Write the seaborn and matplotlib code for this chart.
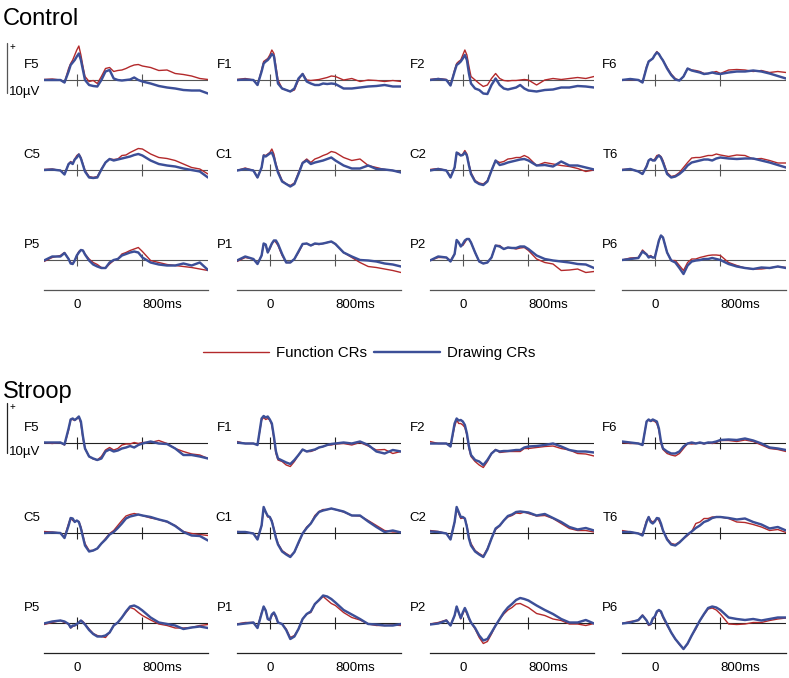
import matplotlib
matplotlib.use("Agg")
import matplotlib.pyplot as plt
import matplotlib.transforms as mtransforms
from matplotlib.lines import Line2D
import pandas as pd
import seaborn as sns

# time points (ms) at which the waveforms were read
times = [-400, -300, -200, -150, -100, -75, -50, -25, 0, 25, 50, 75, 100, 150, 200, 250,
         300, 350, 400, 450, 500, 550, 600, 650, 700, 750, 800, 900, 1000, 1100, 1200,
         1300, 1400, 1500, 1600]

conditions = ["Function CRs", "Drawing CRs"]
sections = ["Control", "Stroop"]
electrodes = [["F5", "F1", "F2", "F6"],
              ["C5", "C1", "C2", "T6"],
              ["P5", "P1", "P2", "P6"]]
tick_times = [0, 800]
tick_labels = ["0", "800ms"]

# amplitudes in microvolts (positive up)
control_F5_function = [0.1, 0.2, 0, -0.5, 2.3, 3.3, 4.0, 5.0, 6.0, 6.8, 5.0, 2.7, 0.7, -0.3, -0.1, -0.7, 0.7, 2.3, 2.5, 1.7, 1.9, 2.0, 2.3, 2.7, 3.0, 3.1, 2.8, 2.5, 1.9, 2.0, 1.3, 1.1, 0.8, 0.3, 0.1]
control_F5_drawing = [0, 0, 0, -0.5, 1.7, 3.0, 3.5, 4.0, 4.7, 5.3, 4.0, 2.0, 0, -1.0, -1.2, -1.3, 0, 1.7, 2.0, 0.3, 0, -0.1, 0, 0.1, 0.5, 0, -0.3, -0.7, -1.2, -1.5, -1.7, -2.0, -2.1, -2.1, -2.7]
control_F1_function = [0.1, 0.3, 0, -1.0, 2.0, 3.7, 4.0, 4.3, 5.0, 6.0, 5.3, 2.7, 0, -1.7, -2.0, -2.3, -2.0, 0, 1.3, 0, -0.1, 0, 0.1, 0.3, 0.5, 0.8, 0.7, 0, 0.3, -0.3, 0, -0.1, -0.3, -0.1, -0.3]
control_F1_drawing = [0, 0.1, 0, -1.0, 1.7, 3.3, 3.7, 4.0, 4.5, 5.2, 4.8, 2.0, -0.7, -1.7, -2.0, -2.3, -1.7, 0.3, 1.2, -0.3, -0.7, -1.0, -1.0, -0.7, -0.8, -0.7, -0.8, -1.7, -1.7, -1.5, -1.3, -1.2, -1.0, -1.3, -1.3]
control_F2_function = [0.1, 0.3, 0.1, -1.0, 2.0, 3.3, 3.7, 4.0, 5.0, 6.0, 5.0, 2.7, 0.7, 0, -0.7, -1.3, -1.0, 0.3, 1.3, 0.3, -0.1, -0.2, -0.1, -0.1, 0, 0.1, 0, -1.0, 0, 0.3, 0.1, 0.3, 0.5, 0.3, 0.7]
control_F2_drawing = [0, 0.2, 0, -1.1, 1.7, 3.0, 3.3, 3.7, 4.3, 5.0, 4.0, 1.3, -0.7, -1.7, -2.0, -2.7, -2.8, -1.0, 0.3, -1.0, -1.7, -1.9, -1.7, -1.5, -1.0, -1.7, -2.1, -2.3, -2.0, -1.9, -1.5, -1.5, -1.2, -1.3, -1.5]
control_F6_function = [0, 0.1, 0, -0.5, 2.7, 3.7, 4.0, 4.3, 5.0, 5.7, 5.2, 4.5, 3.9, 2.5, 1.2, 0.3, -0.1, 0.7, 2.3, 2.0, 1.9, 1.7, 1.3, 1.3, 1.5, 1.7, 1.3, 2.0, 2.1, 2.0, 1.7, 1.9, 1.5, 1.7, 1.5]
control_F6_drawing = [0, 0.2, 0, -0.5, 2.5, 3.7, 4.0, 4.3, 5.0, 5.5, 5.2, 4.5, 3.9, 2.3, 1.0, 0.1, -0.1, 0.7, 2.3, 1.9, 1.7, 1.5, 1.2, 1.3, 1.5, 1.3, 1.2, 1.5, 1.7, 1.7, 1.9, 1.7, 1.3, 0.8, 0.3]
control_C5_function = [0.1, 0.2, -0.1, -0.8, 1.2, 1.7, 1.4, 2.2, 2.9, 3.2, 2.5, 1.2, -0.1, -1.3, -1.5, -1.3, 0.2, 1.5, 2.2, 2.1, 2.2, 2.9, 3.0, 3.5, 3.9, 4.3, 4.2, 3.2, 2.5, 2.3, 1.9, 1.2, 0.5, 0.2, -0.8]
control_C5_drawing = [0, 0.1, -0.1, -0.9, 1.2, 1.5, 1.2, 2.1, 2.5, 3.1, 2.3, 1.0, -0.3, -1.5, -1.6, -1.5, 0.1, 1.5, 2.2, 1.9, 2.1, 2.3, 2.5, 2.7, 3.0, 3.2, 2.9, 1.9, 1.2, 0.9, 0.7, 0.3, 0, -0.3, -1.5]
control_C1_function = [-0.1, 0.4, -0.1, -1.5, 0.5, 3.0, 2.9, 3.2, 3.5, 4.2, 3.2, 1.2, -0.1, -2.1, -2.8, -3.1, -2.6, -0.5, 1.5, 2.2, 1.5, 2.2, 2.5, 2.9, 3.2, 3.7, 3.5, 2.5, 1.9, 2.2, 0.9, 0.5, 0.1, -0.1, -0.5]
control_C1_drawing = [-0.1, 0.2, -0.1, -1.5, 0.5, 2.9, 2.7, 3.0, 3.3, 3.5, 2.5, 0.9, -0.5, -2.3, -2.8, -3.3, -2.8, -0.8, 1.4, 1.9, 1.2, 1.5, 1.7, 1.9, 2.2, 2.5, 1.9, 0.9, 0.3, 0.3, 0.9, 0.2, 0.1, -0.1, -0.5]
control_C2_function = [0.1, 0.3, -0.1, -1.3, 0.5, 3.2, 3.4, 2.9, 3.2, 3.9, 3.2, 1.2, -0.5, -2.1, -2.6, -2.8, -2.1, -0.1, 1.9, 1.5, 1.7, 2.2, 2.3, 2.5, 2.5, 2.9, 2.5, 0.9, 1.5, 1.2, 0.9, 0.7, 0.3, -0.3, 0]
control_C2_drawing = [-0.1, 0.2, -0.1, -1.5, 0.5, 3.5, 3.2, 2.9, 3.0, 3.5, 2.9, 0.9, -0.8, -2.3, -2.8, -3.0, -2.3, -0.1, 1.9, 1.0, 1.2, 1.5, 1.7, 1.9, 2.1, 2.2, 1.9, 0.9, 1.0, 0.7, 1.7, 0.9, 0.9, 0.5, 0.1]
control_T6_function = [0.1, 0.2, -0.3, -0.8, 0.9, 1.9, 2.2, 1.9, 2.2, 2.9, 3.0, 2.7, 1.9, -0.5, -1.3, -1.1, -0.5, 0.5, 1.5, 2.4, 2.5, 2.5, 2.7, 2.9, 2.9, 3.2, 3.0, 2.7, 3.0, 2.9, 2.2, 2.3, 1.9, 1.4, 1.4]
control_T6_drawing = [0, 0.2, -0.3, -0.8, 0.7, 1.9, 2.2, 1.9, 1.9, 2.5, 2.9, 2.5, 1.5, -0.8, -1.5, -1.3, -0.8, -0.1, 0.9, 1.5, 1.7, 1.9, 2.1, 2.1, 1.9, 2.3, 2.5, 2.3, 2.2, 2.3, 2.3, 1.9, 1.5, 1.0, 0.5]
control_P5_function = [-0.3, 0.5, 0.9, 1.5, 0.2, -0.5, -0.7, -0.1, 0.9, 1.7, 2.0, 1.9, 1.2, 0.2, -0.5, -0.9, -1.5, -1.6, -0.8, -0.1, 0.2, 1.2, 1.5, 1.9, 2.2, 2.5, 1.7, -0.1, -0.5, -0.9, -1.1, -1.3, -1.5, -1.8, -2.1]
control_P5_drawing = [-0.1, 0.7, 0.7, 1.4, 0.2, -0.7, -0.8, -0.1, 0.9, 1.5, 2.0, 1.9, 1.1, -0.1, -0.9, -1.3, -1.6, -1.6, -0.5, 0, 0.2, 0.9, 1.2, 1.5, 1.7, 1.5, 0.5, -0.5, -0.9, -1.1, -1.1, -0.7, -1.1, -0.5, -2.0]
control_P1_function = [-0.3, 0.5, 0.2, -0.7, 0.9, 3.2, 2.9, 1.5, 2.2, 3.2, 3.9, 3.5, 2.9, 0.9, -0.5, -0.5, 0.2, 1.5, 3.1, 3.3, 2.9, 3.2, 3.1, 3.3, 3.5, 3.7, 3.2, 1.5, 0.5, -0.5, -1.3, -1.5, -1.8, -2.1, -2.5]
control_P1_drawing = [-0.1, 0.7, 0.2, -0.8, 0.9, 3.3, 3.1, 1.5, 2.4, 3.3, 3.9, 3.9, 3.2, 1.2, -0.5, -0.5, 0.2, 1.7, 3.2, 3.3, 2.9, 3.3, 3.2, 3.3, 3.5, 3.7, 3.2, 1.5, 0.7, 0, -0.1, -0.3, -0.7, -0.9, -1.3]
control_P2_function = [-0.1, 0.5, 0.5, -0.1, 1.2, 3.9, 3.5, 2.9, 2.9, 3.5, 4.2, 4.2, 3.5, 1.5, -0.3, -0.7, -0.5, 0.5, 2.9, 2.9, 2.2, 2.5, 2.4, 2.2, 2.4, 2.5, 1.9, 0.2, -0.5, -0.8, -2.1, -2.0, -1.8, -2.5, -2.3]
control_P2_drawing = [-0.1, 0.7, 0.5, -0.3, 1.2, 4.0, 3.5, 2.7, 3.2, 3.9, 4.2, 4.2, 3.5, 1.5, -0.3, -0.7, -0.5, 0.5, 2.9, 2.7, 2.2, 2.5, 2.4, 2.4, 2.7, 2.7, 2.2, 0.9, 0.2, -0.1, -0.3, -0.5, -0.8, -0.9, -1.6]
control_P6_function = [0, 0.4, 0.5, 2.0, 1.2, 0.7, 0.9, 0.5, 0.5, 2.2, 3.9, 4.9, 4.5, 1.5, -0.1, -0.1, -1.1, -2.1, -0.5, 0.2, 0.2, 0.5, 0.7, 0.9, 1.0, 1.0, 0.9, -0.5, -1.1, -1.6, -1.8, -1.8, -1.6, -1.3, -1.5]
control_P6_drawing = [0, 0.2, 0.4, 1.7, 1.1, 0.5, 0.7, 0.5, 0.5, 2.2, 3.9, 4.9, 4.5, 1.5, -0.1, -0.5, -1.6, -2.8, -1.1, -0.3, -0.1, 0, 0.2, 0.2, 0.4, 0.2, 0, -0.8, -1.3, -1.6, -1.8, -1.5, -1.6, -1.3, -1.6]

stroop_F5_function = [0.1, -0.1, 0.1, -0.4, 2.6, 4.7, 4.7, 4.5, 4.9, 5.1, 3.9, 0.9, -1.1, -2.7, -3.2, -3.4, -2.7, -1.4, -0.9, -1.4, -1.1, -0.4, -0.2, -0.2, 0.1, -0.1, 0.1, 0.1, 0.5, -0.1, -1.1, -1.7, -2.2, -2.4, -3.1]
stroop_F5_drawing = [0.1, 0.1, 0.1, -0.3, 2.9, 4.7, 4.9, 4.6, 4.9, 5.3, 4.3, 1.3, -1.1, -2.7, -3.1, -3.4, -3.1, -1.7, -1.3, -1.7, -1.5, -1.1, -0.9, -0.6, -0.9, -0.4, -0.1, 0.3, -0.1, -0.2, -1.1, -2.4, -2.4, -2.7, -3.1]
stroop_F1_function = [0.3, -0.1, -0.1, -0.4, 4.6, 5.1, 4.7, 4.9, 4.6, 3.6, 0.9, -2.1, -3.4, -3.7, -4.4, -4.7, -3.7, -2.4, -1.3, -1.7, -1.7, -1.4, -0.9, -0.7, -0.4, -0.4, -0.2, -0.1, -0.4, 0.1, -0.6, -1.4, -1.3, -2.1, -1.7]
stroop_F1_drawing = [0.1, -0.1, -0.1, -0.4, 4.9, 5.4, 5.1, 5.3, 4.7, 3.9, 1.3, -1.7, -3.1, -3.5, -3.9, -4.2, -3.4, -2.4, -1.3, -1.7, -1.5, -1.3, -0.9, -0.7, -0.4, -0.2, -0.1, 0.1, -0.1, 0.3, -0.4, -1.7, -2.1, -1.4, -1.7]
stroop_F2_function = [0.3, -0.1, -0.1, -0.7, 3.3, 4.6, 3.9, 3.9, 3.6, 3.1, 1.6, -1.1, -2.7, -3.7, -4.4, -4.9, -3.7, -2.1, -1.3, -1.9, -1.8, -1.7, -1.7, -1.7, -1.7, -1.1, -1.1, -0.9, -0.7, -0.6, -1.1, -1.4, -2.1, -2.2, -2.6]
stroop_F2_drawing = [-0.1, -0.1, -0.1, -0.7, 3.9, 4.9, 4.5, 4.6, 4.3, 3.6, 1.9, -0.7, -2.4, -3.4, -3.7, -4.4, -3.4, -2.1, -1.4, -1.7, -1.6, -1.6, -1.5, -1.4, -1.4, -0.9, -0.7, -0.6, -0.4, -0.1, -0.7, -1.4, -1.7, -1.7, -1.9]
stroop_F6_function = [0.1, -0.1, -0.1, -0.4, 4.3, 4.6, 4.3, 4.5, 4.3, 3.9, 2.6, -0.1, -1.3, -2.1, -2.4, -2.6, -2.1, -1.1, -0.1, -0.2, -0.1, 0.1, -0.2, 0.1, -0.1, 0.1, 0.5, 0.5, 0.3, 0.6, 0.3, -0.4, -1.1, -1.3, -1.7]
stroop_F6_drawing = [0.3, 0.1, -0.1, -0.4, 4.3, 4.7, 4.4, 4.7, 4.5, 4.3, 2.9, 0.3, -1.1, -1.7, -2.1, -2.1, -1.7, -0.7, -0.1, 0.1, -0.1, 0.1, -0.1, 0.1, 0.1, 0.3, 0.6, 0.7, 0.6, 0.9, 0.5, -0.1, -0.9, -1.1, -1.4]
stroop_C5_function = [0.3, 0.2, 0, -0.8, 1.9, 3.0, 2.5, 2.3, 2.4, 2.3, 1.2, -0.5, -2.1, -3.5, -3.5, -3.1, -2.1, -1.1, -0.1, 0.5, 1.5, 2.5, 3.4, 3.7, 3.9, 3.7, 3.5, 3.0, 2.7, 2.2, 1.5, 0.3, -0.1, -0.3, -0.5]
stroop_C5_drawing = [0, 0.1, 0, -1.0, 1.5, 3.0, 2.9, 2.2, 2.5, 2.2, 0.9, -0.8, -2.5, -3.7, -3.5, -3.1, -2.1, -1.3, -0.3, 0.2, 1.0, 1.9, 2.9, 3.3, 3.5, 3.7, 3.5, 3.2, 2.7, 2.3, 1.4, 0.2, -0.5, -0.6, -1.5]
stroop_C1_function = [0.3, 0.2, -0.1, -1.1, 1.5, 5.0, 4.2, 3.2, 3.2, 2.5, 0.9, -0.8, -2.1, -3.5, -4.1, -4.6, -3.8, -2.1, -0.1, 1.2, 1.9, 3.5, 4.3, 4.7, 4.7, 4.9, 4.7, 4.2, 3.5, 3.4, 2.5, 1.5, 0.5, 0.2, 0.2]
stroop_C1_drawing = [0.2, 0.2, -0.1, -1.3, 1.5, 5.2, 4.2, 3.4, 3.2, 2.3, 0.7, -1.0, -2.3, -3.7, -4.3, -4.8, -3.8, -1.9, -0.1, 1.0, 1.9, 3.2, 4.2, 4.5, 4.7, 4.9, 4.7, 4.3, 3.5, 3.5, 2.3, 1.2, 0.2, 0.5, 0.1]
stroop_C2_function = [0.5, 0.3, -0.1, -1.1, 2.2, 5.0, 3.9, 2.9, 3.0, 2.9, 1.5, -0.8, -2.1, -3.5, -4.1, -4.6, -3.1, -1.1, 0.7, 1.4, 2.5, 3.2, 3.5, 4.0, 3.9, 4.2, 3.9, 3.4, 3.5, 2.9, 1.9, 0.9, 0.5, 0.5, 0.2]
stroop_C2_drawing = [0.3, 0.2, -0.1, -1.3, 2.2, 5.2, 4.2, 3.2, 3.2, 2.9, 1.2, -1.1, -2.5, -3.7, -4.3, -4.8, -3.3, -1.1, 0.9, 1.5, 2.5, 3.4, 3.7, 4.2, 4.3, 4.2, 4.1, 3.5, 3.8, 3.0, 2.2, 1.2, 0.7, 1.0, 0.5]
stroop_T6_function = [0.5, 0.2, -0.1, -0.3, 2.5, 3.2, 2.5, 2.2, 2.5, 2.9, 2.5, 1.5, 0.5, -1.1, -2.1, -2.3, -1.8, -1.1, -0.5, 0.3, 1.9, 2.2, 2.9, 2.9, 3.2, 3.2, 3.2, 2.9, 2.2, 2.1, 1.7, 1.2, 0.5, 0.7, 0.1]
stroop_T6_drawing = [0.2, 0.2, -0.1, -0.5, 2.2, 3.2, 2.2, 1.9, 2.3, 3.0, 2.9, 1.9, 0.5, -1.3, -2.3, -2.5, -1.9, -1.1, -0.3, 0.3, 1.0, 1.5, 2.2, 2.5, 3.0, 3.2, 3.2, 3.0, 2.7, 2.9, 2.2, 1.7, 0.9, 1.2, 0.5]
stroop_P5_function = [-0.3, 0.1, 0.5, 0.1, -0.2, -1.0, -0.7, -0.5, -0.3, 0.1, 0.5, 0.3, -0.2, -1.2, -2.1, -2.5, -2.7, -2.9, -1.9, -0.5, 0.1, 1.1, 2.1, 3.1, 2.8, 2.1, 1.5, 0.6, -0.2, -0.5, -1.0, -1.0, -0.9, -0.5, -0.3]
stroop_P5_drawing = [-0.1, 0.3, 0.5, 0.3, -0.2, -0.9, -0.5, -0.5, -0.2, 0.1, 0.5, 0.1, -0.3, -1.4, -2.2, -2.7, -2.7, -2.5, -1.9, -0.5, 0.1, 1.1, 2.3, 3.3, 3.5, 3.1, 2.5, 1.1, 0.1, -0.2, -0.5, -1.2, -0.9, -0.7, -1.0]
stroop_P1_function = [-0.2, 0.1, 0.1, -0.9, 2.1, 3.1, 2.5, 0.8, 0.5, 1.5, 1.9, 1.1, 0.1, -0.2, -1.2, -2.9, -2.5, -1.2, 0.8, 1.8, 2.1, 3.8, 4.5, 5.3, 4.6, 3.9, 3.5, 2.1, 1.1, 0.6, -0.2, -0.5, -0.5, -0.4, -0.5]
stroop_P1_drawing = [-0.3, -0.1, 0.1, -1.0, 1.9, 3.3, 2.5, 0.8, 0.6, 1.7, 2.1, 1.3, 0.1, -0.2, -1.4, -3.2, -2.7, -1.2, 0.8, 1.8, 2.3, 3.8, 4.6, 5.5, 5.3, 4.8, 4.1, 2.6, 1.7, 0.8, -0.2, -0.3, -0.5, -0.5, -0.2]
stroop_P2_function = [-0.2, 0.1, 0.6, -0.5, 1.5, 3.1, 2.1, 0.8, 1.8, 2.8, 1.8, 0.8, 0.1, -1.2, -2.9, -4.1, -3.7, -2.2, -0.5, 0.8, 1.8, 2.6, 3.1, 3.8, 3.9, 3.5, 3.1, 1.9, 1.5, 0.8, 0.5, -0.2, -0.2, -0.5, -0.1]
stroop_P2_drawing = [-0.3, -0.1, 0.5, -0.5, 1.5, 3.3, 2.1, 1.0, 2.1, 3.0, 2.1, 1.0, 0.1, -1.0, -2.5, -3.5, -3.2, -1.9, -0.5, 0.8, 2.1, 3.1, 3.8, 4.6, 5.0, 4.8, 4.5, 3.5, 2.6, 1.8, 0.8, 0.1, 0.1, 0.6, -0.1]
stroop_P6_function = [-0.1, 0.3, 0.5, 1.6, 0.5, -0.5, -0.3, 0.8, 1.1, 2.1, 2.6, 2.1, 1.1, -0.5, -1.9, -3.2, -4.3, -5.2, -4.2, -2.5, -1.2, 0.5, 1.7, 2.8, 3.0, 2.6, 1.8, -0.2, -0.3, -0.2, 0.1, 0.1, 0.5, 0.8, 1.0]
stroop_P6_drawing = [-0.1, 0.1, 0.6, 1.5, 0.5, -0.3, -0.2, 0.9, 1.3, 2.3, 2.6, 2.3, 1.3, -0.3, -1.9, -3.2, -4.2, -5.2, -4.1, -2.5, -1.0, 0.5, 1.8, 3.0, 3.3, 3.1, 2.6, 1.1, 0.8, 0.6, 0.8, 0.5, 0.8, 1.1, 1.1]

waves = {
    ("Control", "F5"): (control_F5_function, control_F5_drawing),
    ("Control", "F1"): (control_F1_function, control_F1_drawing),
    ("Control", "F2"): (control_F2_function, control_F2_drawing),
    ("Control", "F6"): (control_F6_function, control_F6_drawing),
    ("Control", "C5"): (control_C5_function, control_C5_drawing),
    ("Control", "C1"): (control_C1_function, control_C1_drawing),
    ("Control", "C2"): (control_C2_function, control_C2_drawing),
    ("Control", "T6"): (control_T6_function, control_T6_drawing),
    ("Control", "P5"): (control_P5_function, control_P5_drawing),
    ("Control", "P1"): (control_P1_function, control_P1_drawing),
    ("Control", "P2"): (control_P2_function, control_P2_drawing),
    ("Control", "P6"): (control_P6_function, control_P6_drawing),
    ("Stroop", "F5"): (stroop_F5_function, stroop_F5_drawing),
    ("Stroop", "F1"): (stroop_F1_function, stroop_F1_drawing),
    ("Stroop", "F2"): (stroop_F2_function, stroop_F2_drawing),
    ("Stroop", "F6"): (stroop_F6_function, stroop_F6_drawing),
    ("Stroop", "C5"): (stroop_C5_function, stroop_C5_drawing),
    ("Stroop", "C1"): (stroop_C1_function, stroop_C1_drawing),
    ("Stroop", "C2"): (stroop_C2_function, stroop_C2_drawing),
    ("Stroop", "T6"): (stroop_T6_function, stroop_T6_drawing),
    ("Stroop", "P5"): (stroop_P5_function, stroop_P5_drawing),
    ("Stroop", "P1"): (stroop_P1_function, stroop_P1_drawing),
    ("Stroop", "P2"): (stroop_P2_function, stroop_P2_drawing),
    ("Stroop", "P6"): (stroop_P6_function, stroop_P6_drawing),
}

sns.set_style("white")
plt.rcParams["font.family"] = ["Liberation Sans", "DejaVu Sans"]
plt.rcParams["text.color"] = "black"
plt.rcParams["xtick.color"] = "black"

red, blue = "#b3292b", "#3c4f98"
palette = {"Function CRs": red, "Drawing CRs": blue}
widths = {"Function CRs": 1.0, "Drawing CRs": 1.75}
axis_color = {"Control": "#555555", "Stroop": "#222222"}

# layout in pixels
W, H = 789, 678
PX = 5.0            # pixels per microvolt
YLO, YHI = -6, 8
col_left = [44, 237, 430, 622]
col_width = 164
row_base = {"Control": [80, 170, 260], "Stroop": [443, 533, 623]}
title_base = {"Control": 25, "Stroop": 398}
scale_lo = {"Control": -2.6, "Stroop": -2.0}

fig = plt.figure(figsize=(W / 100, H / 100), dpi=100)

for sec in sections:
    fig.text(3 / W, 1 - title_base[sec] / H, sec, fontsize=17, va="baseline", ha="left")
    acol = axis_color[sec]
    for r, row in enumerate(electrodes):
        base = row_base[sec][r]
        for c, el in enumerate(row):
            top = base - YHI * PX
            height = (YHI - YLO) * PX
            ax = fig.add_axes([col_left[c] / W, 1 - (top + height) / H, col_width / W, height / H])
            ax.patch.set_alpha(0)

            func, draw = waves[(sec, el)]
            df = pd.DataFrame({
                "time": times + times,
                "uV": func + draw,
                "cond": [conditions[0]] * len(times) + [conditions[1]] * len(times),
            })
            ax.axhline(0, color=acol, lw=0.8, zorder=1)
            ax.vlines(tick_times, -1.2, 1.2, color=acol, lw=0.8, zorder=1)
            sns.lineplot(data=df, x="time", y="uV", hue="cond", size="cond",
                         hue_order=conditions, size_order=conditions,
                         palette=palette, sizes=widths, errorbar=None,
                         legend=False, ax=ax, zorder=3, solid_joinstyle="round")
            ax.set_xlim(-400, 1600)
            ax.set_ylim(YLO, YHI)
            ax.set(xlabel=None, ylabel=None)
            ax.set_yticks([])
            for side in ["top", "left", "right"]:
                ax.spines[side].set_visible(False)

            if r == len(electrodes) - 1:
                ax.spines["bottom"].set_color(acol)
                ax.spines["bottom"].set_linewidth(0.9)
                ax.set_xticks(tick_times)
                ax.set_xticklabels(tick_labels)
                ax.tick_params(axis="x", direction="inout", length=9, width=0.9,
                               color=acol, labelsize=9.5, pad=2)
                ax.get_xticklabels()[1].set_horizontalalignment("left")
            else:
                ax.spines["bottom"].set_visible(False)
                ax.set_xticks([])

            ax.annotate(el, xy=(0, 0), xycoords=("axes fraction", "data"),
                        xytext=(-3, 10.5), textcoords="offset points",
                        ha="right", va="center", fontsize=9.5)

            # 10 µV scale bar beside the first plot of each section
            if r == 0 and c == 0:
                trans = mtransforms.blended_transform_factory(fig.transFigure, ax.transData)
                lo = scale_lo[sec]
                ax.plot([7 / W, 7 / W], [lo, lo + 10], transform=trans,
                        color=acol, lw=0.9, clip_on=False)
                ax.text(10 / W, lo + 9.2, "+", transform=trans, fontsize=7,
                        ha="left", va="center")
                ax.text(9 / W, lo + 0.3, "10µV", transform=trans, fontsize=9.5,
                        ha="left", va="center")

handles = [Line2D([], [], color=palette[k], lw=widths[k]) for k in conditions]
fig.legend(handles, conditions, loc="center", bbox_to_anchor=(369 / W, 1 - 353 / H),
           ncol=2, frameon=False, fontsize=10.8, handlelength=4.4,
           handletextpad=0.45, columnspacing=0.5)

fig.savefig("out.png", dpi=100)
